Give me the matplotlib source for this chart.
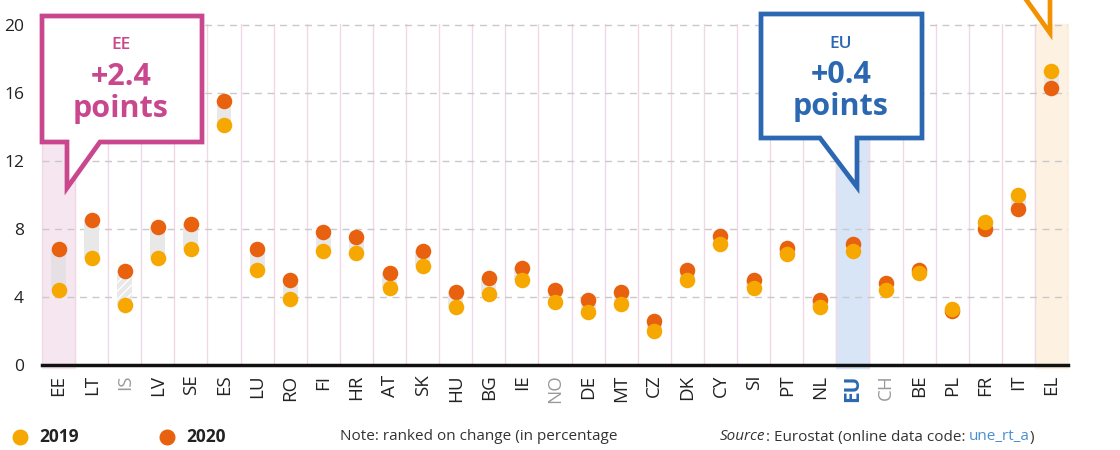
import numpy as np
import matplotlib
matplotlib.use("Agg")
import matplotlib.pyplot as plt
from matplotlib.patches import Polygon
from matplotlib.lines import Line2D

plt.rcParams['font.family'] = ['Open Sans', 'DejaVu Sans']

# Donnees : taux de chomage (%)
pays = ["EE", "LT", "IS", "LV", "SE", "ES", "LU", "RO", "FI", "HR", "AT", "SK", "HU",
        "BG", "IE", "NO", "DE", "MT", "CZ", "DK", "CY", "SI", "PT", "NL", "EU", "CH",
        "BE", "PL", "FR", "IT", "EL"]
val_2019 = [4.4, 6.3, 3.5, 6.3, 6.8, 14.1, 5.6, 3.9, 6.7, 6.6, 4.5, 5.8, 3.4,
            4.2, 5.0, 3.7, 3.1, 3.6, 2.0, 5.0, 7.1, 4.5, 6.5, 3.4, 6.7, 4.4,
            5.4, 3.3, 8.4, 10.0, 17.3]
val_2020 = [6.8, 8.5, 5.5, 8.1, 8.3, 15.5, 6.8, 5.0, 7.8, 7.5, 5.4, 6.7, 4.3,
            5.1, 5.7, 4.4, 3.8, 4.3, 2.6, 5.6, 7.6, 5.0, 6.9, 3.8, 7.1, 4.8,
            5.6, 3.2, 8.0, 9.2, 16.3]
hors_ue = ["IS", "NO", "CH"]
y_ticks = [0, 4, 8, 12, 16, 20]

c2019 = "#f6a800"
c2020 = "#e8610e"
rose = "#c9478d"
bleu = "#2b68b1"
orange = "#f39200"

W, H = 1120, 450
fig = plt.figure(figsize=(W / 100, H / 100), dpi=100)
ax = fig.add_axes([42 / W, 1 - 365 / H, (1068 - 42) / W, (365 - 24) / H])

x = np.arange(len(pays))
v19 = np.array(val_2019)
v20 = np.array(val_2020)

# bandes de fond
ax.axvspan(pays.index("EE") - 0.5, pays.index("EE") + 0.5, ymin=-0.01, color="#f6e6f0", zorder=0, clip_on=False)
ax.axvspan(pays.index("EU") - 0.5, pays.index("EU") + 0.5, ymin=-0.01, color="#d8e5f6", zorder=0, clip_on=False)
ax.axvspan(pays.index("EL") - 0.5, pays.index("EL") + 0.5, ymin=-0.01, color="#fdf1e2", zorder=0, clip_on=False)

# separateurs verticaux
for i in range(len(pays) + 1):
    ax.axvline(i - 0.5, color="#f0d8e7", lw=1, zorder=0.5)

# grille horizontale
for t in y_ticks[1:]:
    ax.axhline(t, color="#c9c9c9", lw=1, dashes=(5, 4), zorder=1)

# barres de liaison
bas = np.minimum(v19, v20)
haut = np.abs(v20 - v19)
for i, p in enumerate(pays):
    if p in hors_ue:
        ax.bar(x[i], haut[i], bottom=bas[i], width=0.45, color="#e8e8e8",
               hatch="////", edgecolor="white", linewidth=0, zorder=2)
    else:
        coul = "#e6dfe4" if p == "EE" else "#e8e8e8"
        ax.bar(x[i], haut[i], bottom=bas[i], width=0.45, color=coul, linewidth=0, zorder=2)

ax.scatter(x, v20, s=125, color=c2020, zorder=3, linewidths=0)
ax.scatter(x, v19, s=125, color=c2019, zorder=4, linewidths=0)

ax.set_xlim(-0.5, len(pays) - 0.5)
ax.set_ylim(0, 20.05)
ax.set_yticks(y_ticks)
ax.set_yticklabels([str(t) for t in y_ticks], fontsize=12.5, color="#222222")
ax.set_xticks(x)
ax.set_xticklabels(pays, rotation=90, fontsize=13.5, color="#222222")
for lab in ax.get_xticklabels():
    if lab.get_text() in hors_ue:
        lab.set_color("#9a9a9a")
    if lab.get_text() == "EU":
        lab.set_color(bleu)
        lab.set_fontweight("bold")
        lab.set_fontsize(15)
ax.tick_params(axis="both", length=0)
ax.tick_params(axis="y", pad=13)
ax.tick_params(axis="x", pad=7)
for s in ["top", "right", "left"]:
    ax.spines[s].set_visible(False)
ax.spines["bottom"].set_linewidth(2.5)
ax.spines["bottom"].set_color("#111111")
ax.spines["bottom"].set_zorder(5)


def px(xp, yp):
    return (xp / W, 1 - yp / H)


# bulles
bulle_ee = [(42, 16), (202, 16), (202, 142), (100, 142), (67, 188), (67, 142), (42, 142)]
bulle_eu = [(761, 14), (922, 14), (922, 138), (857, 138), (857, 187), (820, 138), (761, 138)]
fig.add_artist(Polygon([px(a, b) for a, b in bulle_ee], closed=True, facecolor="white",
                       edgecolor=rose, lw=3.4, transform=fig.transFigure, zorder=10))
fig.add_artist(Polygon([px(a, b) for a, b in bulle_eu], closed=True, facecolor="white",
                       edgecolor=bleu, lw=3.4, transform=fig.transFigure, zorder=10))
fig.add_artist(Polygon([px(1005, -30), px(1050, 33), px(1050, -30)], closed=True, facecolor="white",
                       edgecolor=orange, lw=3.4, transform=fig.transFigure, zorder=10))

fig.text(*px(121, 45), "EE", color=rose, fontsize=12.5, fontweight="semibold", ha="center", va="center", zorder=11)
fig.text(*px(121, 77), "+2.4", color=rose, fontsize=22, fontweight="bold", ha="center", va="center", zorder=11)
fig.text(*px(121, 109), "points", color=rose, fontsize=22, fontweight="bold", ha="center", va="center", zorder=11)
fig.text(*px(841, 44), "EU", color=bleu, fontsize=12.5, fontweight="semibold", ha="center", va="center", zorder=11)
fig.text(*px(841, 75), "+0.4", color=bleu, fontsize=22, fontweight="bold", ha="center", va="center", zorder=11)
fig.text(*px(841, 107), "points", color=bleu, fontsize=22, fontweight="bold", ha="center", va="center", zorder=11)

# legende
fig.add_artist(Line2D([20 / W], [1 - 437 / H], marker="o", markersize=10.5, color=c2019, lw=0,
                      transform=fig.transFigure))
fig.add_artist(Line2D([167 / W], [1 - 437 / H], marker="o", markersize=10.5, color=c2020, lw=0,
                      transform=fig.transFigure))
fig.text(*px(39, 437), "2019", fontsize=12.5, fontweight="bold", color="#222222", va="center")
fig.text(*px(186, 437), "2020", fontsize=12.5, fontweight="bold", color="#222222", va="center")
fig.text(*px(340, 437), "Note: ranked on change (in percentage", fontsize=11, color="#333333", va="center")

# source, morceau par morceau
renderer = fig.canvas.get_renderer()
xs = 720
for txt, style, coul in [("Source", "italic", "#333333"), (": Eurostat (online data code: ", "normal", "#333333"),
                         ("une_rt_a", "normal", "#4a8fd0"), (")", "normal", "#333333")]:
    t = fig.text(*px(xs, 437), txt, fontsize=11, style=style, color=coul, va="center")
    xs += t.get_window_extent(renderer).width

fig.savefig("out.png", dpi=100)
